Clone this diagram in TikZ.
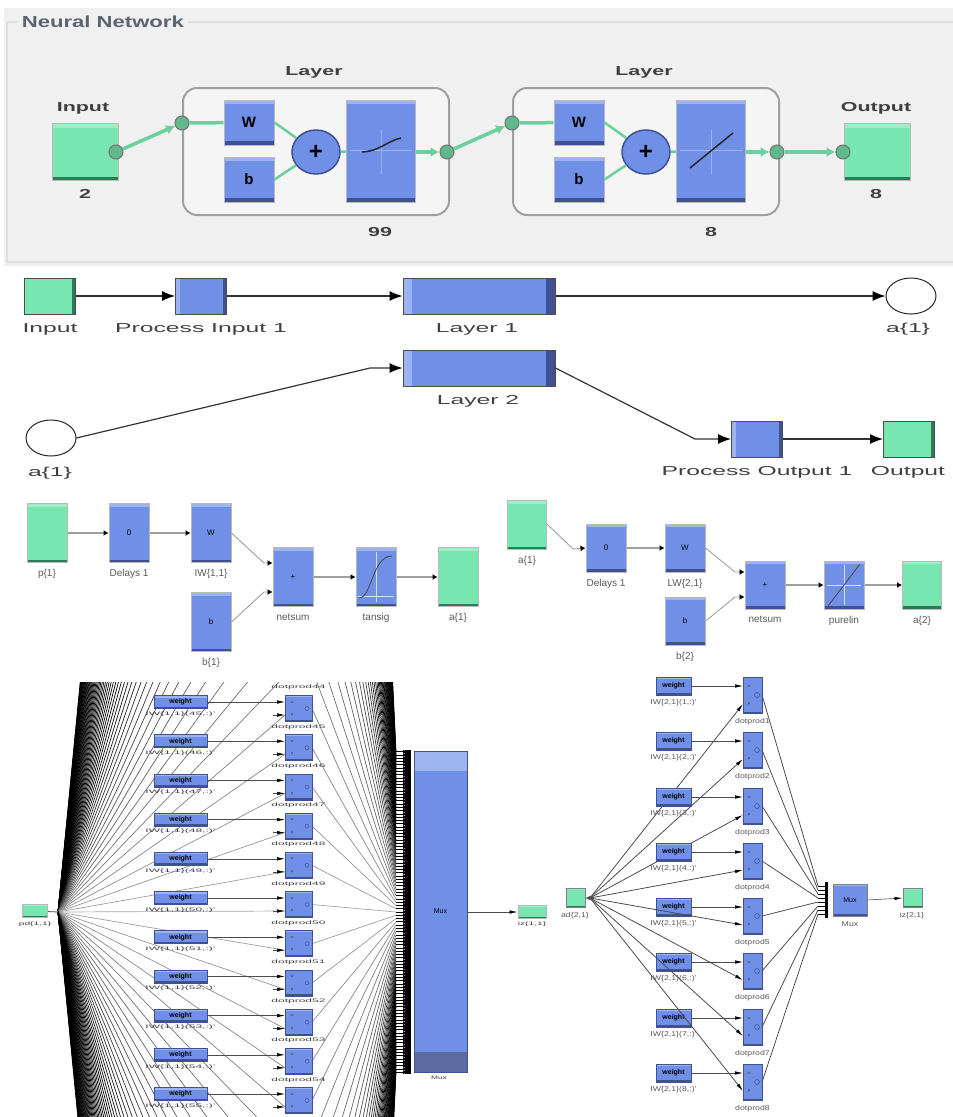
\documentclass[tikz,border=0pt]{standalone}
\usepackage{fontspec}
\setmainfont{Liberation Sans}
\usetikzlibrary{arrows.meta,shapes.geometric}

\definecolor{nnblue}{HTML}{6F90E6}
\definecolor{nnbluelight}{HTML}{9DB4F0}
\definecolor{nnbluedark}{HTML}{3F5190}
\definecolor{nngreen}{HTML}{78E6B0}
\definecolor{nngreendark}{HTML}{2F7A58}
\definecolor{nnpanel}{HTML}{F0F0F0}
\definecolor{nntitle}{HTML}{5A6470}

\tikzset{
  bluebox/.style={rectangle, inner sep=0pt, fill=nnblue, draw=gray!55, line width=1pt,
    path picture={
      \fill[nnbluelight] (path picture bounding box.north west) rectangle ([yshift=-#1]path picture bounding box.north east);
      \fill[nnbluedark] (path picture bounding box.south west) rectangle ([yshift=#1]path picture bounding box.south east);}},
  greenbox/.style={rectangle, inner sep=0pt, fill=nngreen, draw=gray!55, line width=1pt,
    path picture={
      \fill[nngreen!70!white] (path picture bounding box.north west) rectangle ([yshift=-#1]path picture bounding box.north east);
      \fill[nngreendark] (path picture bounding box.south west) rectangle ([yshift=#1]path picture bounding box.south east);}},
  sideblue/.style={rectangle, inner sep=0pt, fill=nnblue, draw=black!70, line width=1pt,
    path picture={
      \fill[nnbluelight] (path picture bounding box.north west) rectangle ([xshift=#1]path picture bounding box.south west);
      \fill[nnbluedark] (path picture bounding box.south east) rectangle ([xshift=-#1]path picture bounding box.north east);}},
  sidegreen/.style={rectangle, inner sep=0pt, fill=nngreen, draw=black!70, line width=1pt,
    path picture={
      \fill[nngreendark] (path picture bounding box.south east) rectangle ([xshift=-#1]path picture bounding box.north east);}},
  top/.style={font=\bfseries\fontsize{13}{13}\selectfont, text=black!75, xscale=1.65, transform shape},
  mid/.style={font=\fontsize{13}{13}\selectfont, text=black!75, xscale=1.9, transform shape},
  low/.style={font=\fontsize{10}{10}\selectfont, text=black!65, anchor=north, yshift=-3pt},
  tiny/.style={font=\fontsize{5}{5}\selectfont, text=black!75, xscale=2.4, transform shape},
  small/.style={font=\fontsize{7}{7}\selectfont, text=black!65, xscale=1.25, transform shape},
  sign/.style={font=\fontsize{4}{4}\selectfont, text=black!75},
  labelbox/.style={font=\bfseries\fontsize{15}{15}\selectfont},
  sumnode/.style={ellipse, inner sep=0pt, fill=nnblue, draw=nnbluedark, line width=1.5pt, minimum width=48pt, minimum height=44pt, font=\bfseries\fontsize{24}{24}\selectfont},
  greenline/.style={draw=nngreen!90!black, line width=3.5pt},
  greenarrow/.style={greenline, -{Latex[length=9pt,width=10pt]}},
  port/.style={circle, inner sep=0pt, minimum size=14pt, fill=nngreen!80!black, draw=black!55, line width=1pt},
  wire/.style={draw=black!80, line width=1.2pt, -{Latex[length=13pt,width=10pt,color=black]}},
  smallwire/.style={draw=gray!75, line width=2.2pt, -{Latex[length=5pt,width=6pt,color=black]}},
  sidewire/.style={smallwire, line width=0.9pt},
  thinwire/.style={draw=gray!60!black, line width=0.8pt},
  rowwire/.style={draw=black!70, line width=0.6pt, -{Latex[length=8pt,width=3.5pt,color=black]}},
  fanline/.style={draw=black!#1, line width=0.7pt},
  stub/.style={draw=black, line width=0.8pt, -{Latex[length=8pt,width=3.5pt]}},
}

\begin{document}
\begin{tikzpicture}[x=1pt, y=-1pt]
  \useasboundingbox (0,0) rectangle (953,1117);

  % --- panel with the network view ---
  \fill[nnpanel] (4,8) rectangle (953,266);
  \draw[gray!25, line width=1.5pt] (953,22) -- (7,22) -- (7,262) -- (953,262);
  \node[fill=nnpanel, anchor=west, text=nntitle, xscale=1.38, transform shape, font=\bfseries\fontsize{16}{16}\selectfont] (title) at (17,22) {Neural Network};

  % layers: (x of centre, name)
  \foreach \c/\n in {316/A, 646/B}{
    \node[draw=gray!75, fill=white!96!black, line width=2pt, rounded corners=14pt, minimum width=266pt, minimum height=127pt] (layer\n) at (\c,151.5) {};
    \node[top] (layertext\n) at (\c-2,72) {Layer};
    \node[bluebox=4pt, minimum width=50pt, minimum height=45pt, labelbox] (w\n) at (\c-67,122.5) {W};
    \node[bluebox=4pt, minimum width=50pt, minimum height=45pt, labelbox] (b\n) at (\c-67,179.5) {b};
    \node[sumnode] (sum\n) at (\c,152) {+};
    \node[bluebox=4pt, minimum width=69pt, minimum height=102pt] (tf\n) at (\c+65,151) {};
    \draw[nnbluelight, line width=0.6pt] (\c+65,130) -- (\c+65,174) (\c+34,150) -- (\c+96,150);
    \draw[greenline, line width=2.5pt] (w\n.east) -- (sum\n);
    \draw[greenline, line width=2.5pt] (b\n.east) -- (sum\n);
    \draw[greenline, line width=2.5pt] (sum\n) -- (tf\n);
    \node[port] (in\n) at (\c-134,123) {};
    \node[port] (out\n) at (\c+131,152) {};
    \draw[greenline] (in\n) -- (w\n);
    \draw[greenarrow] (tf\n.east |- out\n) -- (out\n);
  }
  \draw[black!85, line width=1.5pt] (362,152) .. controls (380,151) and (385,142) .. (401,138);
  \draw[black!85, line width=1.5pt] (690,168) -- (733,133);

  \node[greenbox=4pt, minimum width=66pt, minimum height=57pt] (input) at (85,152) {};
  \node[greenbox=4pt, minimum width=66pt, minimum height=57pt] (output) at (877,152) {};
  \node[port] (inputport) at (116,152) {};
  \node[port] (outputport) at (843,152) {};
  \draw[greenarrow] (inputport) -- (inA);
  \draw[greenarrow] (outA) -- (inB);
  \draw[greenarrow] (outB) -- (outputport);
  \node[top] (inputtext) at (83,108) {Input};
  \node[top] (outputtext) at (876,108) {Output};
  \node[top] (inputsize) at (85,194) {2};
  \node[top] (outputsize) at (876,194) {8};
  \node[top] (sizeA) at (380,232) {99};
  \node[top] (sizeB) at (711,232) {8};

  % --- top level blocks ---
  \node[sidegreen=4pt, minimum width=51pt, minimum height=36pt] (topin) at (50,296) {};
  \node[sideblue=4pt, minimum width=51pt, minimum height=36pt] (procin) at (201,296) {};
  \node[sideblue=9pt, minimum width=152pt, minimum height=36pt] (layerone) at (479,296) {};
  \node[ellipse, draw=black!85, line width=1pt, fill=white, minimum width=50pt, minimum height=36pt] (aout) at (911,296) {};
  \node[sideblue=9pt, minimum width=152pt, minimum height=36pt] (layertwo) at (479,368) {};
  \node[ellipse, draw=black!85, line width=1pt, fill=white, minimum width=50pt, minimum height=36pt] (ain) at (51,438) {};
  \node[sideblue=4pt, minimum width=51pt, minimum height=36pt] (procout) at (757,439) {};
  \node[sidegreen=4pt, minimum width=51pt, minimum height=36pt] (topout) at (909,439) {};

  \node[mid] at (50,329) {Input};
  \node[mid] at (201,329) {Process Input 1};
  \node[mid] at (477,329) {Layer 1};
  \node[mid] at (908,329) {a\{1\}};
  \node[mid] at (478,401) {Layer 2};
  \node[mid] at (50,473) {a\{1\}};
  \node[mid] at (757,472) {Process Output 1};
  \node[mid] at (908,472) {Output};

  \coordinate (bendin) at (370,368);
  \coordinate (bendout) at (695,439);
  \draw[wire] (topin) -- (procin);
  \draw[wire] (procin) -- (layerone);
  \draw[wire] (layerone) -- (aout);
  \draw[wire] (ain.east) -- (bendin) -- (layertwo);
  \draw[wire] (layertwo.east) -- (bendout) -- (procout);
  \draw[wire] (procout) -- (topout);

  % --- the two layers, block by block ---
  % name/x/y/h/label/symbol
  \foreach \n/\x/\y/\h/\t/\s in {%
    dlA/129/533/59/Delays 1/0, wtA/211/533/59/{IW\{1,1\}}/W, bsA/211/622/59/b\{1\}/b,
    nsA/293/577/59/netsum/+, tsA/376/577/59/tansig/,
    dlB/606/548/48/Delays 1/0, wtB/685/548/48/{LW\{2,1\}}/W, bsB/685/621/48/b\{2\}/b,
    nsB/765/585/48/netsum/+, tsB/844/585/48/purelin/}{
    \node[bluebox=3pt, minimum width=40pt, minimum height=\h pt, font=\fontsize{8}{8}\selectfont] (\n) at (\x,\y) {\s};
    \node[low] (\n text) at (\n.south) {\t};
  }
  \node[greenbox=3pt, minimum width=40pt, minimum height=59pt] (pA) at (47,533) {};
  \node[low] at (pA.south) {p\{1\}};
  \node[greenbox=3pt, minimum width=40pt, minimum height=59pt] (aA) at (458,577) {};
  \node[low] at (aA.south) {a\{1\}};
  \node[greenbox=3pt, minimum width=39pt, minimum height=49pt] (pB) at (527,525) {};
  \node[low] at (pB.south) {a\{1\}};
  \node[greenbox=3pt, minimum width=39pt, minimum height=48pt] (aB) at (922,585) {};
  \node[low] at (aB.south) {a\{2\}};

  % transfer function marks
  \draw[white!70!nnblue, line width=0.8pt] (376,552) -- (376,602) (358,596) -- (394,596);
  \draw[black!70, line width=0.9pt] (359,598) .. controls (372,598) and (372,556) .. (392,556);
  \draw[white!70!nnblue, line width=0.8pt] (844,565) -- (844,605) (827,585) -- (861,585);
  \draw[black!70, line width=0.9pt] (828,606) -- (860,564);

  \coordinate (wAbend) at (264,563);
  \coordinate (bAbend) at (264,592);
  \coordinate (pBbend) at (573,549);
  \coordinate (wBbend) at (735,572);
  \coordinate (bBbend) at (735,597);
  \coordinate (pBout) at (547,524);
  \draw[smallwire] (pA) -- (dlA);
  \draw[smallwire] (dlA) -- (wtA);
  \draw[sidewire] (wtA.east) -- (wAbend) -- (nsA.west |- wAbend);
  \draw[sidewire] (bsA.east) -- (bAbend) -- (nsA.west |- bAbend);
  \draw[smallwire] (nsA) -- (tsA);
  \draw[smallwire] (tsA) -- (aA);
  \draw[sidewire] (pBout) -- (pBbend) -- (dlB.west);
  \draw[smallwire] (dlB) -- (wtB);
  \draw[sidewire] (wtB.east) -- (wBbend) -- (nsB.west |- wBbend);
  \draw[sidewire] (bsB.east) -- (bBbend) -- (nsB.west |- bBbend);
  \draw[smallwire] (nsB) -- (tsB);
  \draw[smallwire] (tsB) -- (aB);

  % --- weights of layer 1, rows run on past the picture's edge ---
  \begin{scope}
    \clip (0,682) rectangle (560,1117);
    \coordinate (fanleft) at (58,912);
    \foreach \k in {-60,...,60}{
      \pgfmathsetmacro\rowy{898+39.2*\k}
      \pgfmathtruncatemacro\shade{min(100,35+3*abs(\k))}
      \coordinate (dotin\k) at (285,\rowy+13);
      \draw[fanline=\shade] (fanleft) -- (dotin\k);
    }
    \foreach \k in {-49,...,49}{
      \pgfmathsetmacro\rowy{898+39.2*\k}
      \pgfmathsetmacro\muxy{912+3.27*\k}
      \pgfmathtruncatemacro\shade{min(100,35+3*abs(\k))}
      \coordinate (dotout\k) at (312,\rowy+6.5);
      \coordinate (muxin\k) at (396,\muxy);
      \coordinate (muxend\k) at (411,\muxy);
      \draw[fanline=\shade] (dotout\k) -- (muxin\k);
    }
    \foreach \k in {-5,...,5}{
      \pgfmathsetmacro\rowy{898+39.2*\k}
      \pgfmathtruncatemacro\n{\k+50}
      \node[bluebox=2pt, draw=nnbluedark, line width=0.5pt, minimum width=53pt, minimum height=13pt, font=\bfseries\fontsize{7}{7}\selectfont] (wgt\k) at (180.5,\rowy) {weight};
      \node[tiny] at (180.5,\rowy+12) {IW\{1,1\}(\n,:)'};
      \node[bluebox=1.5pt, draw=nnbluedark, line width=0.5pt, minimum width=27pt, minimum height=26pt] (dot\k) at (298.5,\rowy+6.5) {};
      \node[sign] at (292,\rowy) {w};
      \node[sign] at (292,\rowy+13) {p};
      \draw[nnbluedark, line width=0.4pt] (307,\rowy+6.5) circle (2pt);
      \ifnum\k<5
        \node[tiny] at (298.5,\rowy+25) {dotprod\n};
      \fi
      \coordinate (dotw\k) at (285,\rowy);
      \draw[rowwire] (wgt\k) -- (dotw\k);
      \draw[rowwire] ([xshift=-12pt]dotin\k) -- (dotin\k);
    }
    \node[tiny] at (298.5,687) {dotprod44};
    \fill[black] (405,750) rectangle (411,1074);
    \foreach \k in {-49,...,49}{
      \draw[stub] (muxin\k) -- (muxend\k);
    }
  \end{scope}

  \node[rectangle, inner sep=0pt, fill=nnblue, draw=nnbluedark, line width=0.5pt, minimum width=53pt, minimum height=321pt, font=\fontsize{7}{7}\selectfont,
    path picture={
      \fill[nnbluelight] (path picture bounding box.north west) rectangle ([yshift=-20pt]path picture bounding box.north east);
      \fill[nnbluedark!85!white] (path picture bounding box.south west) rectangle ([yshift=20pt]path picture bounding box.south east);}] (mux) at (440.5,911.5) {Mux};
  \node[tiny, xscale=0.7] at (439,1078) {Mux};
  \node[greenbox=1.5pt, minimum width=25pt, minimum height=13pt] (pd) at (35,911) {};
  \node[tiny, xscale=0.85] at (35,924) {pd\{1,1\}};
  \node[greenbox=1.5pt, minimum width=28pt, minimum height=13pt] (iz) at (532,912) {};
  \node[tiny, xscale=0.85] at (532,924) {iz\{1,1\}};
  \draw[thinwire] (pd) -- (fanleft);
  \draw[rowwire] (mux.east |- iz) -- (iz);

  % --- weights of layer 2, 8 rows ---
  \coordinate (fanright) at (590,898);
  \node[greenbox=1.5pt, draw=black!50, minimum size=19pt] (ad) at (575.5,897.5) {};
  \node[small] at (575,916) {ad\{2,1\}};
  \draw[-{Latex[length=5pt,width=5pt]}, black!70] (fanright) -- (ad);
  \node[bluebox=2pt, draw=black!50, line width=0.6pt, minimum width=34pt, minimum height=32pt, font=\fontsize{7}{7}\selectfont] (muxtwo) at (850,900) {Mux};
  \node[small] at (850,924) {Mux};
  \fill[black] (825,882) rectangle (828,918);
  \node[greenbox=1.5pt, draw=black!50, minimum size=19pt] (izz) at (912.5,897.5) {};
  \node[small] at (912,916) {iz\{2,1\}};
  \draw[rowwire] (muxtwo.east) -- (izz);

  \foreach \k/\y in {1/686,2/741,3/797,4/852,5/907,6/962,7/1018,8/1073}{
    \pgfmathsetmacro\muxy{886+4*(\k-1)}
    \node[bluebox=2pt, draw=nnbluedark, line width=0.6pt, minimum width=35pt, minimum height=18pt, font=\bfseries\fontsize{7}{7}\selectfont] (wtwo\k) at (673.5,\y) {weight};
    \node[small] at (673.5,\y+17) {IW\{2,1\}(\k,:)'};
    \node[bluebox=1pt, draw=nnbluedark, line width=0.6pt, minimum width=19pt, minimum height=36pt] (dtwo\k) at (752.5,\y+9) {};
    \node[small] at (752.5,\y+36) {dotprod\k};
    \node[sign] at (749,\y) {w};
    \node[sign] at (749,\y+18) {p};
    \draw[nnbluedark, line width=0.5pt] (757,\y+9) circle (2.5pt);
    \coordinate (dw\k) at (743,\y);
    \coordinate (dp\k) at (743,\y+18);
    \coordinate (dz\k) at (762,\y+9);
    \coordinate (mt\k) at (818,\muxy);
    \coordinate (me\k) at (827,\muxy);
    \draw[rowwire] (wtwo\k) -- (dw\k);
    \draw[rowwire, draw=gray!60!black, line width=0.8pt] (fanright) -- (dp\k);
    \draw[thinwire] (dz\k) -- (mt\k);
    \draw[black, line width=0.6pt] (mt\k) -- (me\k);
  }
\end{tikzpicture}
\end{document}
